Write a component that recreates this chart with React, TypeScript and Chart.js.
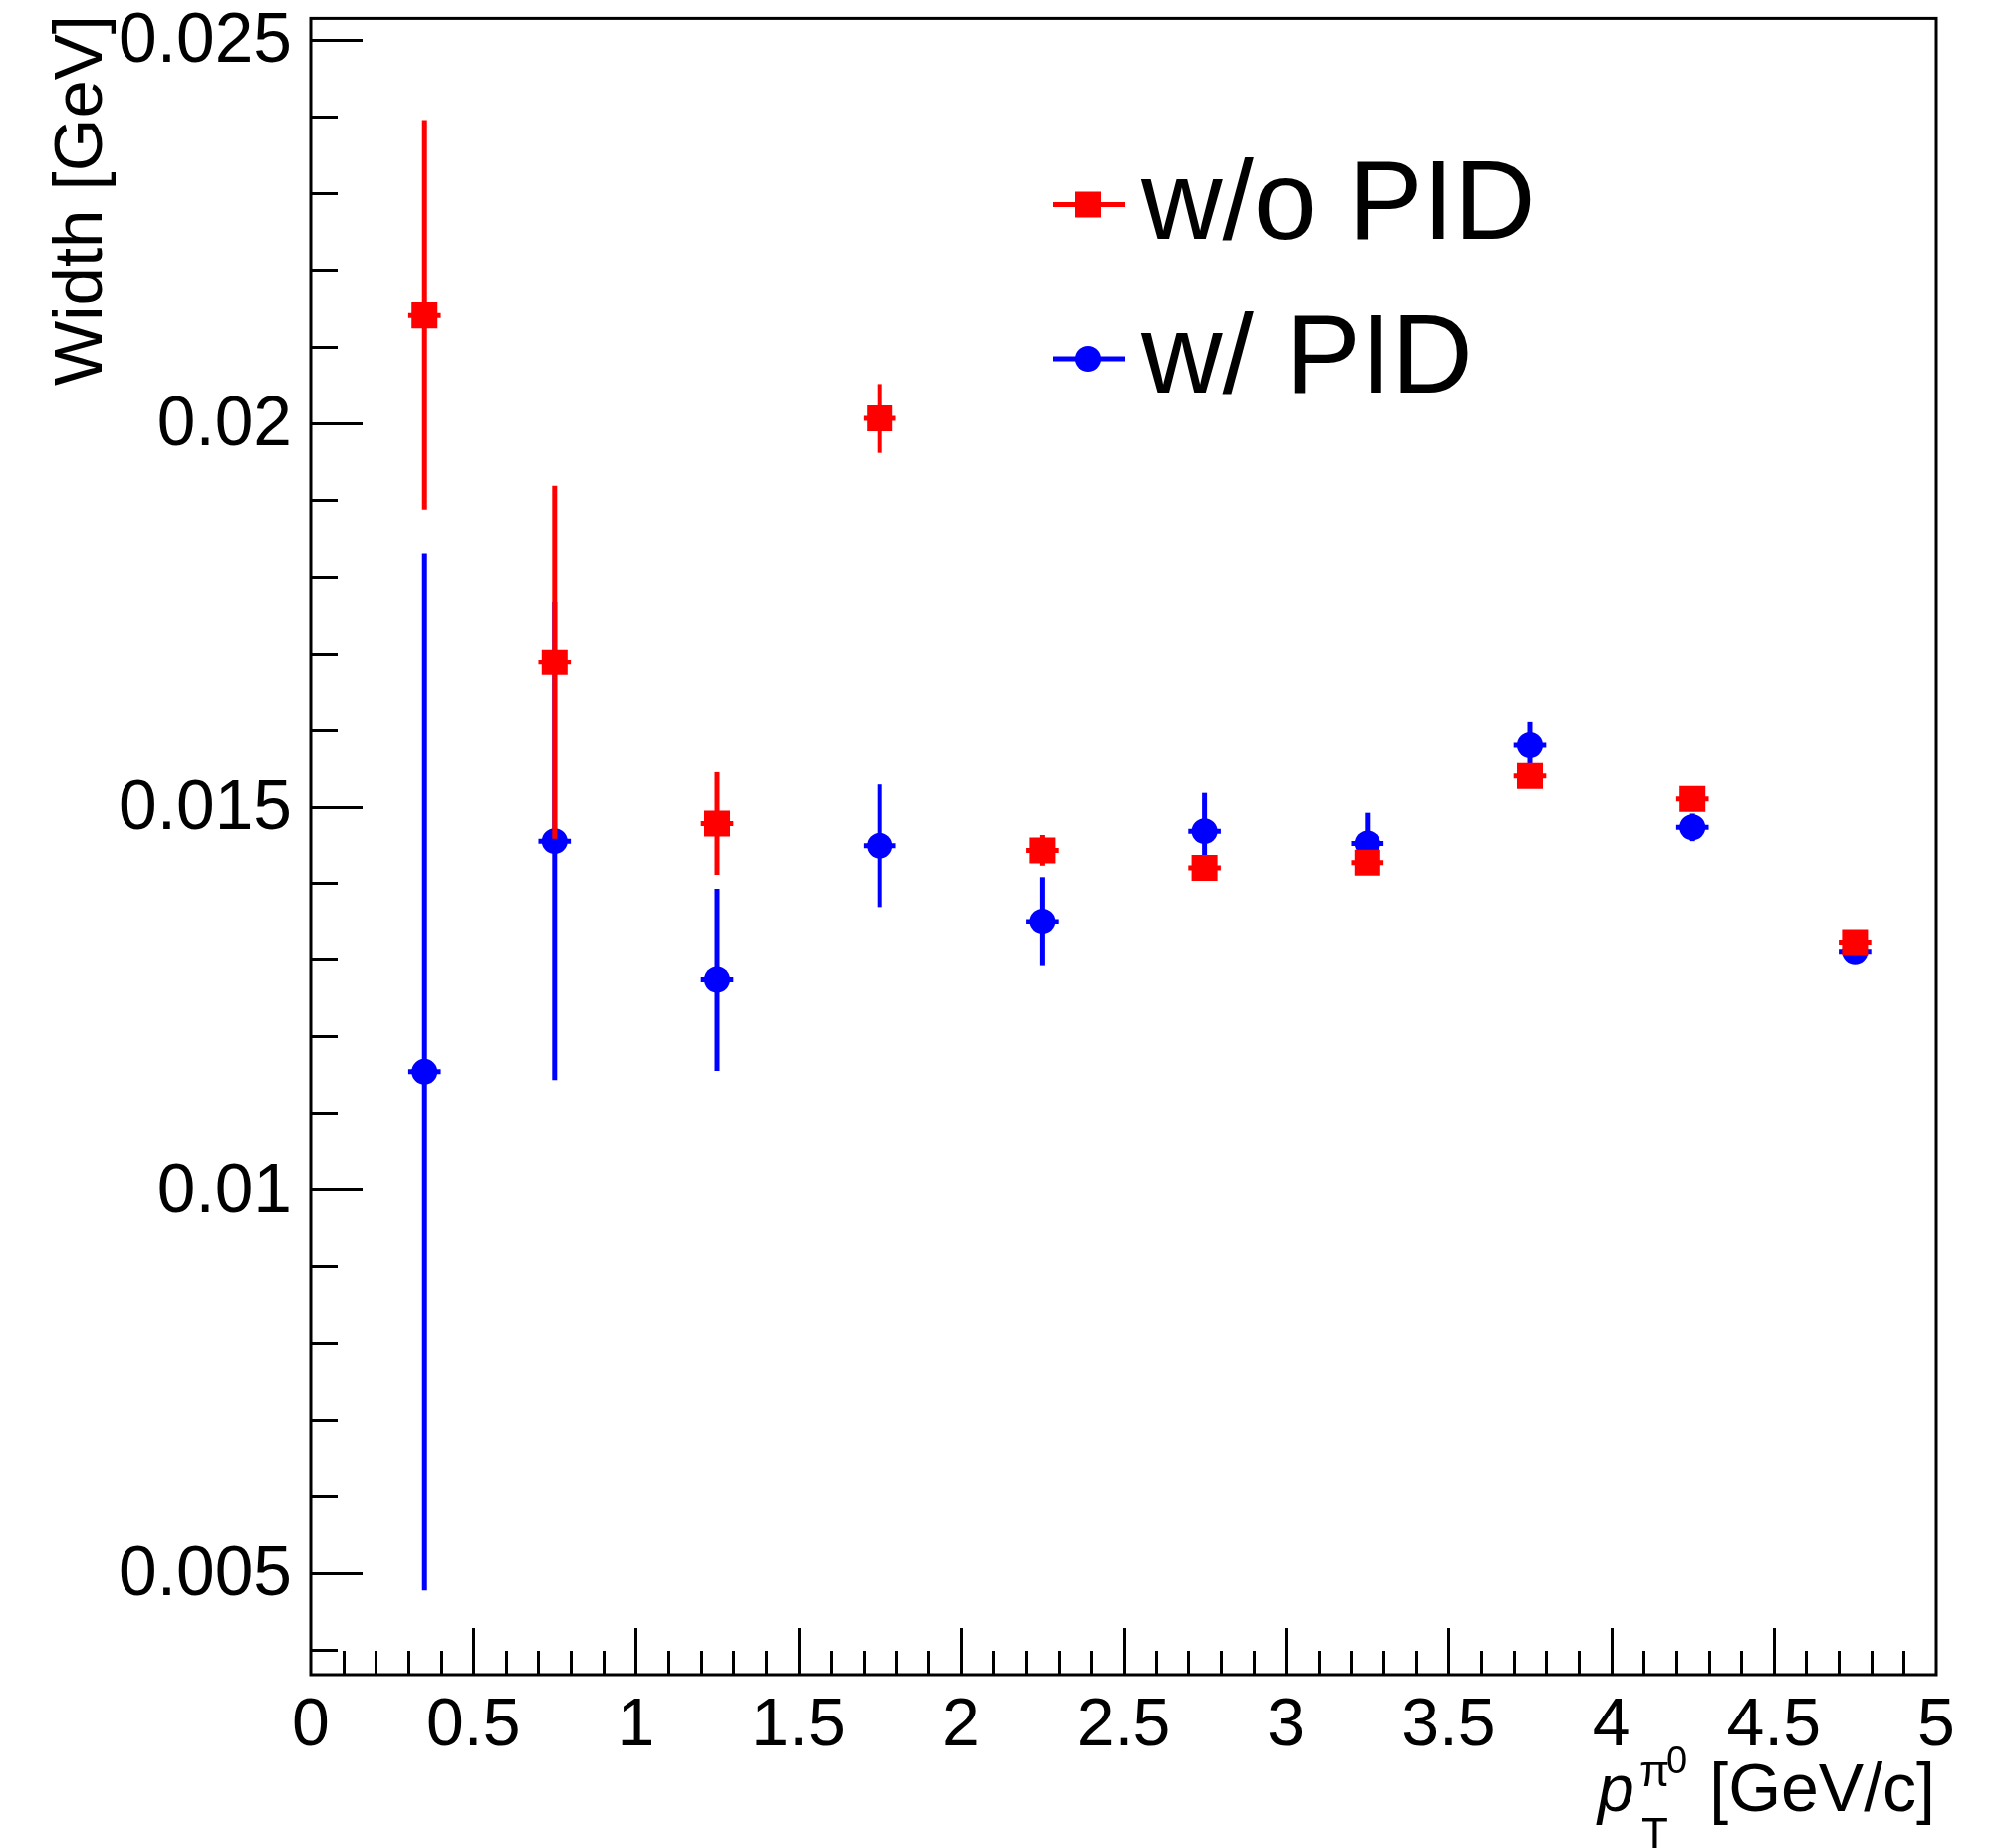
import React, { useEffect, useRef } from "react";
import { Chart, registerables } from "chart.js";

Chart.register(...registerables);

// pT bin centres [GeV/c] and their half widths
const ptValues = [0.35, 0.75, 1.25, 1.75, 2.25, 2.75, 3.25, 3.75, 4.25, 4.75];
const ptErrors = [0.05, 0.05, 0.05, 0.05, 0.05, 0.05, 0.05, 0.05, 0.05, 0.05];

// Width [GeV] without PID (red squares)
const widthNoPID = [0.02141, 0.01688, 0.01478, 0.02006, 0.01443, 0.0142, 0.01427, 0.0154, 0.0151, 0.01322];
const errNoPID = [0.00254, 0.0023, 0.00067, 0.00045, 0.0002, 0.0001, 0.0001, 0.0001, 0.0001, 0.00008];

// Width [GeV] with PID (blue circles)
const widthPID = [0.01154, 0.01455, 0.01274, 0.01449, 0.0135, 0.01468, 0.01452, 0.0158, 0.01473, 0.0131];
const errPID = [0.00676, 0.00312, 0.00119, 0.0008, 0.00058, 0.0005, 0.0004, 0.0003, 0.00018, 0.0001];

const seriesLabels = ["w/o PID", "w/ PID"];
const seriesColors = ["#ff0000", "#0000ff"];

const xMajorTicks = [0, 0.5, 1, 1.5, 2, 2.5, 3, 3.5, 4, 4.5, 5];
const xMajorLabels = ["0", "0.5", "1", "1.5", "2", "2.5", "3", "3.5", "4", "4.5", "5"];
const yMajorTicks = [0.005, 0.01, 0.015, 0.02, 0.025];
const yMajorLabels = ["0.005", "0.01", "0.015", "0.02", "0.025"];

const X_MIN = 0;
const X_MAX = 5;
const Y_MIN = 0.003678;
const Y_MAX = 0.025278;

const FONT = '"Liberation Sans", Arial, Helvetica, sans-serif';

const errorSets = [
  { y: widthNoPID, e: errNoPID },
  { y: widthPID, e: errPID },
];

const rootPlugin = {
  id: "rootStyle",
  beforeDatasetDraw(chart: any, args: any) {
    const idx = args.index;
    const set = errorSets[idx];
    if (!set) return;
    const ctx = chart.ctx;
    const xs = chart.scales.x;
    const ys = chart.scales.y;
    ctx.save();
    ctx.strokeStyle = seriesColors[idx];
    ctx.lineWidth = 5;
    ctx.lineCap = "butt";
    for (let i = 0; i < ptValues.length; i++) {
      const px = xs.getPixelForValue(ptValues[i]);
      const py = ys.getPixelForValue(set.y[i]);
      const top = ys.getPixelForValue(set.y[i] + set.e[i]);
      const bot = ys.getPixelForValue(set.y[i] - set.e[i]);
      ctx.beginPath();
      ctx.moveTo(px, top);
      ctx.lineTo(px, bot);
      ctx.stroke();
      const l = xs.getPixelForValue(ptValues[i] - ptErrors[i]);
      const r = xs.getPixelForValue(ptValues[i] + ptErrors[i]);
      ctx.beginPath();
      ctx.moveTo(l, py);
      ctx.lineTo(r, py);
      ctx.stroke();
    }
    ctx.restore();
  },
  afterDraw(chart: any) {
    const ctx = chart.ctx;
    const xs = chart.scales.x;
    const ys = chart.scales.y;
    const area = chart.chartArea;
    ctx.save();
    ctx.strokeStyle = "#000";
    ctx.fillStyle = "#000";
    ctx.lineWidth = 3;
    // frame
    ctx.strokeRect(area.left, area.top, area.right - area.left, area.bottom - area.top);

    // y ticks
    for (let k = 4; k <= 25; k++) {
      const v = k / 1000;
      const py = Math.round(ys.getPixelForValue(v)) + 0.5;
      const major = k % 5 === 0;
      const len = major ? 52 : 27;
      ctx.beginPath();
      ctx.moveTo(area.left, py);
      ctx.lineTo(area.left + len, py);
      ctx.stroke();
    }
    // x ticks
    for (let k = 1; k < 50; k++) {
      const v = k / 10;
      const px = Math.round(xs.getPixelForValue(v)) + 0.5;
      const major = k % 5 === 0;
      const len = major ? 47 : 24;
      ctx.beginPath();
      ctx.moveTo(px, area.bottom);
      ctx.lineTo(px, area.bottom - len);
      ctx.stroke();
    }

    // y tick labels
    ctx.font = `69.5px ${FONT}`;
    ctx.textAlign = "right";
    ctx.textBaseline = "middle";
    yMajorTicks.forEach((v, i) => {
      ctx.fillText(yMajorLabels[i], 293, ys.getPixelForValue(v) + 3);
    });
    // x tick labels
    ctx.font = `68px ${FONT}`;
    ctx.textAlign = "center";
    ctx.textBaseline = "alphabetic";
    xMajorTicks.forEach((v, i) => {
      ctx.fillText(xMajorLabels[i], xs.getPixelForValue(v), 1752);
    });

    // y title
    ctx.save();
    ctx.translate(102, 15);
    ctx.rotate(-Math.PI / 2);
    ctx.textAlign = "right";
    ctx.textBaseline = "alphabetic";
    ctx.font = `69px ${FONT}`;
    ctx.fillText("Width [GeV]", 0, 0);
    ctx.restore();

    // x title: p_T^{pi0} [GeV/c]
    ctx.textAlign = "left";
    ctx.textBaseline = "alphabetic";
    ctx.font = `italic 66px ${FONT}`;
    ctx.fillText("p", 1604, 1818);
    ctx.font = `44px ${FONT}`;
    ctx.fillText("π", 1646, 1793);
    ctx.fillText("T", 1648, 1856);
    ctx.font = `38px ${FONT}`;
    ctx.fillText("0", 1673, 1780);
    ctx.font = `68px ${FONT}`;
    ctx.textAlign = "right";
    ctx.fillText("[GeV/c]", 1943, 1818);

    // legend
    const legendY = [205.5, 360];
    const legendBase = [240, 394];
    for (let i = 0; i < 2; i++) {
      ctx.strokeStyle = seriesColors[i];
      ctx.fillStyle = seriesColors[i];
      ctx.lineWidth = 5;
      ctx.beginPath();
      ctx.moveTo(1057, legendY[i]);
      ctx.lineTo(1129, legendY[i]);
      ctx.stroke();
      if (i === 0) {
        ctx.fillRect(1092 - 13, legendY[i] - 13, 26, 26);
      } else {
        ctx.beginPath();
        ctx.arc(1092, legendY[i], 13, 0, Math.PI * 2);
        ctx.fill();
      }
      ctx.fillStyle = "#000";
      ctx.font = `113px ${FONT}`;
      ctx.textAlign = "left";
      ctx.fillText(seriesLabels[i], 1146, legendBase[i]);
    }
    ctx.restore();
  },
};

export default function App() {
  const canvasRef = useRef<HTMLCanvasElement | null>(null);

  useEffect(() => {
    const canvas = canvasRef.current;
    if (!canvas) return;
    const chart = new Chart(canvas, {
      type: "scatter",
      data: {
        datasets: [
          {
            label: seriesLabels[0],
            data: ptValues.map((x, i) => ({ x, y: widthNoPID[i] })),
            pointStyle: "rect",
            pointRadius: 18.4,
            pointBackgroundColor: seriesColors[0],
            pointBorderWidth: 0,
            showLine: false,
          },
          {
            label: seriesLabels[1],
            data: ptValues.map((x, i) => ({ x, y: widthPID[i] })),
            pointStyle: "circle",
            pointRadius: 13,
            pointBackgroundColor: seriesColors[1],
            pointBorderWidth: 0,
            showLine: false,
          },
        ],
      },
      options: {
        animation: false,
        responsive: false,
        devicePixelRatio: 1,
        events: [],
        layout: { padding: { left: 312, right: 70, top: 16, bottom: 174 } },
        plugins: {
          legend: { display: false },
          tooltip: { enabled: false },
          title: { display: false },
        },
        scales: {
          x: { type: "linear", min: X_MIN, max: X_MAX, display: false },
          y: { type: "linear", min: Y_MIN, max: Y_MAX, display: false },
        },
      },
      plugins: [rootPlugin],
    });
    return () => chart.destroy();
  }, []);

  return (
    <div style={{ position: "absolute", left: 0, top: 0, width: 2014, height: 1855, background: "#fff" }}>
      <canvas ref={canvasRef} width={2014} height={1855} style={{ width: 2014, height: 1855, display: "block" }} />
    </div>
  );
}
